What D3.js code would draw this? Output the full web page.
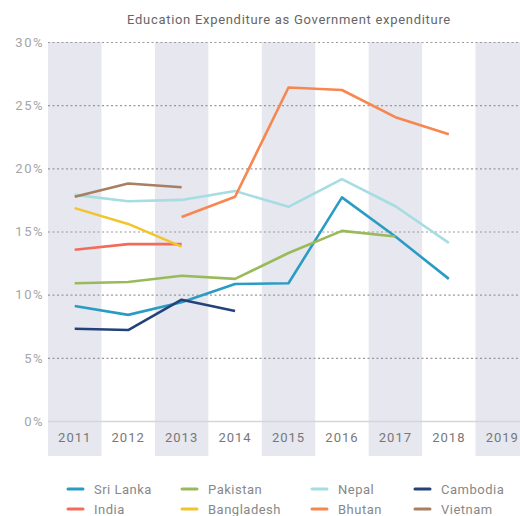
<script src="https://d3js.org/d3.v7.min.js"></script>
<style>
body { margin: 0; background: #fff; }
</style>
<body>
<script>
// Chart data
const years = ["2011","2012","2013","2014","2015","2016","2017","2018","2019"];
const yTicks = [0, 5, 10, 15, 20, 25, 30];

const sriLanka   = [9.1, 8.4, 9.4, 10.85, 10.9, 17.7, 14.6, 11.25, null];
const pakistan   = [10.9, 11.0, 11.5, 11.25, 13.3, 15.05, 14.6, null, null];
const nepal      = [17.9, 17.4, 17.5, 18.2, 16.95, 19.15, 17.0, 14.1, null];
const cambodia   = [7.3, 7.2, 9.6, 8.7, null, null, null, null, null];
const india      = [13.55, 14.0, 14.0, null, null, null, null, null, null];
const bangladesh = [16.85, 15.6, 13.8, null, null, null, null, null, null];
const bhutan     = [null, null, 16.15, 17.75, 26.4, 26.2, 24.05, 22.7, null];
const vietnam    = [17.75, 18.8, 18.5, null, null, null, null, null, null];

const seriesNames  = ["Sri Lanka","India","Pakistan","Bangladesh","Nepal","Bhutan","Cambodia","Vietnam"];
const seriesValues = [sriLanka, india, pakistan, bangladesh, nepal, bhutan, cambodia, vietnam];
const seriesColors = ["#2a9cc4","#f36b5b","#9aba5a","#f2c42e","#a6dde2","#f7874f","#23427a","#a97e62"];

// Dimensions
const width = 520, height = 516;
const plotLeft = 48, plotRight = 529;
const plotTop = 42, plotBottom = 421;

const svg = d3.select("body").append("svg")
  .attr("width", width)
  .attr("height", height)
  .style("font-family", "Roboto, 'Noto Sans', sans-serif");

const x = d3.scaleBand().domain(years).range([plotLeft, plotRight]).padding(0);
const y = d3.scaleLinear().domain([0, 30]).range([plotBottom, plotTop]);

// alternating bands
svg.append("g").selectAll("rect")
  .data(years.filter((d, i) => i % 2 === 0))
  .join("rect")
  .attr("x", d => x(d))
  .attr("y", plotTop)
  .attr("width", x.bandwidth())
  .attr("height", 456 - plotTop)
  .attr("fill", "#e6e7ef");

// title
svg.append("text")
  .attr("x", 289)
  .attr("y", 24)
  .attr("text-anchor", "middle")
  .attr("font-size", 13)
  .attr("letter-spacing", 0.7)
  .attr("fill", "#666")
  .text("Education Expenditure as Government expenditure");

// y grid + labels
const yAxis = svg.append("g")
  .attr("transform", `translate(${plotLeft},0)`)
  .call(d3.axisLeft(y).tickValues(yTicks).tickFormat(d => d + "%").tickSize(-(width - plotLeft)).tickPadding(4));
yAxis.select(".domain").remove();
yAxis.selectAll(".tick line")
  .attr("stroke", d => d === 0 ? "#d6d6d6" : "#999")
  .attr("stroke-width", d => d === 0 ? 1.5 : 1.2)
  .attr("stroke-dasharray", d => d === 0 ? null : "2,2.5");
yAxis.selectAll(".tick text")
  .attr("font-size", 13)
  .attr("letter-spacing", 1.5)
  .attr("fill", "#a5a5a5")
  .attr("font-family", "Roboto, sans-serif");

// x labels
const xAxis = svg.append("g")
  .attr("transform", `translate(0,${plotBottom})`)
  .call(d3.axisBottom(x).tickSize(0).tickPadding(12));
xAxis.select(".domain").remove();
xAxis.selectAll(".tick text")
  .attr("font-size", 13)
  .attr("letter-spacing", 1)
  .attr("fill", "#777")
  .attr("font-family", "Roboto, sans-serif");

// lines
const line = d3.line()
  .defined(d => d != null)
  .x((d, i) => x(years[i]) + x.bandwidth() / 2)
  .y(d => y(d));

svg.append("g").selectAll("path")
  .data(seriesValues)
  .join("path")
  .attr("fill", "none")
  .attr("stroke", (d, i) => seriesColors[i])
  .attr("stroke-width", 2.6)
  .attr("stroke-linejoin", "round")
  .attr("d", d => line(d));

// legend: 4 columns, 2 rows
const legendCols = [68, 182, 312, 415];
const legendRows = [489, 509];
const legend = svg.append("g").selectAll("g")
  .data(seriesNames)
  .join("g")
  .attr("transform", (d, i) => `translate(${legendCols[Math.floor(i / 2)]},${legendRows[i % 2]})`);
legend.append("line")
  .attr("x1", 0).attr("x2", 15)
  .attr("stroke", (d, i) => seriesColors[i])
  .attr("stroke-width", 3)
  .attr("stroke-linecap", "round");
legend.append("text")
  .attr("x", 26)
  .attr("dy", "0.35em")
  .attr("font-size", 13)
  .attr("letter-spacing", 0.5)
  .attr("fill", "#888")
  .text(d => d);
</script>
</body>
